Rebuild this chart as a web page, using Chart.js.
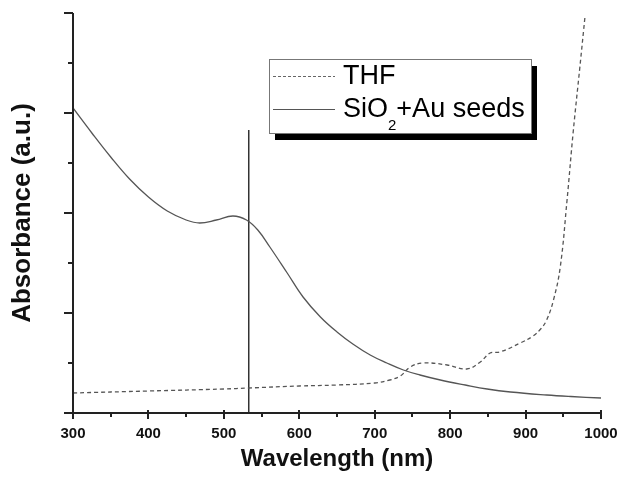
<!DOCTYPE html>
<html>
<head>
<meta charset="utf-8">
<script src="https://cdn.jsdelivr.net/npm/chart.js@4"></script>
<style>
  html, body { margin: 0; padding: 0; background: #fff; }
  #wrap { width: 623px; height: 482px; position: relative; }
</style>
</head>
<body>
<div id="wrap"><canvas id="c" width="623" height="482"></canvas></div>
<script>
// ---- data ----
const siWavelength = [300, 325, 350, 375, 400, 425, 450, 468, 490, 512, 530, 545, 561, 584, 605, 628, 650, 671, 694, 716, 738, 760, 787, 820, 849, 880, 928, 960, 1000];
const siAbsorbance = [3.05, 2.80, 2.56, 2.34, 2.16, 2.02, 1.93, 1.90, 1.93, 1.97, 1.93, 1.83, 1.66, 1.40, 1.16, 0.96, 0.81, 0.69, 0.58, 0.50, 0.43, 0.38, 0.33, 0.28, 0.24, 0.21, 0.18, 0.165, 0.15];

const thfWavelength = [300, 400, 500, 533, 600, 650, 700, 720, 734, 747, 764, 796, 822, 840, 853, 866, 893, 910, 920, 928, 937, 946, 955, 963, 972, 979];
const thfAbsorbance = [0.20, 0.22, 0.24, 0.25, 0.27, 0.28, 0.30, 0.33, 0.37, 0.46, 0.50, 0.48, 0.44, 0.51, 0.60, 0.61, 0.70, 0.77, 0.84, 0.93, 1.13, 1.46, 2.13, 2.80, 3.46, 3.98];

const markerWavelength = [533, 533];
const markerAbsorbance = [0, 2.83];

const xTickValues = [300, 400, 500, 600, 700, 800, 900, 1000];
const seriesNames = ['THF', 'SiO2+Au seeds'];
const xTitle = 'Wavelength (nm)';
const yTitle = 'Absorbance (a.u.)';

const toPts = (xs, ys) => xs.map((x, i) => ({ x: x, y: ys[i] }));

const SANS = "'Liberation Sans', Arial, sans-serif";

const axesPlugin = {
  id: 'axesPlugin',
  afterDatasetsDraw(chart) {
    const ctx = chart.ctx;
    const xs = chart.scales.x, ys = chart.scales.y;
    const a = chart.chartArea;
    ctx.save();
    ctx.strokeStyle = '#222';
    ctx.lineWidth = 2;
    ctx.beginPath();
    ctx.moveTo(a.left, a.top); ctx.lineTo(a.left, a.bottom + 1);
    ctx.moveTo(a.left - 1, a.bottom); ctx.lineTo(a.right + 1, a.bottom);
    ctx.stroke();
    for (let v = xs.min; v <= xs.max + 0.001; v += 50) {
      const px = Math.round(xs.getPixelForValue(v));
      const major = (v % 100) === 0;
      ctx.beginPath();
      ctx.moveTo(px, a.bottom - (major ? 3 : 0));
      ctx.lineTo(px, a.bottom + (major ? 6 : 4));
      ctx.stroke();
    }
    for (let v = ys.min; v <= ys.max + 0.001; v += 0.5) {
      const py = Math.round(ys.getPixelForValue(v));
      const major = Math.abs(v - Math.round(v)) < 1e-6;
      ctx.beginPath();
      ctx.moveTo(a.left - (major ? 9 : 5), py);
      ctx.lineTo(a.left, py);
      ctx.stroke();
    }
    ctx.restore();
  },
  afterDraw(chart) {
    const ctx = chart.ctx;
    const bx = 269, by = 59, bw = 262, bh = 74;
    ctx.save();
    ctx.fillStyle = '#000';
    ctx.fillRect(bx + 6, by + 7, bw, bh);
    ctx.fillStyle = '#fff';
    ctx.fillRect(bx, by, bw, bh);
    ctx.strokeStyle = '#777';
    ctx.lineWidth = 1;
    ctx.strokeRect(bx + 0.5, by + 0.5, bw, bh);
    ctx.strokeStyle = '#666';
    ctx.lineWidth = 1;
    ctx.setLineDash([3, 2]);
    ctx.beginPath(); ctx.moveTo(273, 76.5); ctx.lineTo(335, 76.5); ctx.stroke();
    ctx.setLineDash([]);
    ctx.strokeStyle = '#555';
    ctx.beginPath(); ctx.moveTo(273, 109.5); ctx.lineTo(335, 109.5); ctx.stroke();
    ctx.fillStyle = '#000';
    ctx.textBaseline = 'alphabetic';
    ctx.textAlign = 'left';
    ctx.font = '27px ' + SANS;
    ctx.fillText(seriesNames[0], 343, 84);
    let x = 343;
    const base = 117;
    const parts = ['SiO', '2', '+Au seeds'];
    ctx.fillText(parts[0], x, base); x += ctx.measureText(parts[0]).width;
    ctx.font = '15px ' + SANS;
    ctx.fillText(parts[1], x, base + 13); x += ctx.measureText(parts[1]).width;
    ctx.font = '27px ' + SANS;
    ctx.fillText(parts[2], x, base);
    ctx.restore();
  }
};

new Chart(document.getElementById('c'), {
  type: 'line',
  data: {
    datasets: [
      {
        label: seriesNames[0],
        data: toPts(thfWavelength, thfAbsorbance),
        borderColor: '#555',
        borderWidth: 1.3,
        borderDash: [4, 3],
        pointRadius: 0,
        tension: 0.4,
        fill: false
      },
      {
        label: seriesNames[1],
        data: toPts(siWavelength, siAbsorbance),
        borderColor: '#555',
        borderWidth: 1.3,
        pointRadius: 0,
        tension: 0.4,
        fill: false
      },
      {
        label: 'marker',
        data: toPts(markerWavelength, markerAbsorbance),
        borderColor: '#333',
        borderWidth: 1.5,
        pointRadius: 0,
        fill: false
      }
    ]
  },
  options: {
    responsive: false,
    animation: false,
    events: [],
    layout: { padding: { top: 13, right: 22, left: 0, bottom: 0 } },
    plugins: { legend: { display: false }, tooltip: { enabled: false } },
    scales: {
      x: {
        type: 'linear',
        min: 300, max: 1000,
        afterFit(s) { s.height = 69; },
        afterBuildTicks(s) { s.ticks = xTickValues.map(v => ({ value: v })); },
        grid: { display: true, drawOnChartArea: false, drawTicks: true, tickLength: 8, color: 'rgba(0,0,0,0)' },
        border: { display: false },
        ticks: {
          padding: 4,
          color: '#111',
          maxRotation: 0,
          callback: v => String(v),
          font: { family: SANS, size: 15, weight: 'bold' }
        },
        title: {
          display: true, text: xTitle, color: '#111',
          font: { family: SANS, size: 24, weight: 'bold' },
          padding: { top: 0, bottom: 8 }
        }
      },
      y: {
        type: 'linear',
        min: 0, max: 4,
        afterFit(s) { s.width = 73; },
        grid: { display: false },
        border: { display: false },
        ticks: { display: false, stepSize: 1 },
        title: {
          display: true, text: yTitle, color: '#111',
          font: { family: SANS, size: 26, weight: 'bold' },
          padding: { top: 7, bottom: 0 }
        }
      }
    }
  },
  plugins: [axesPlugin]
});
</script>
</body>
</html>
